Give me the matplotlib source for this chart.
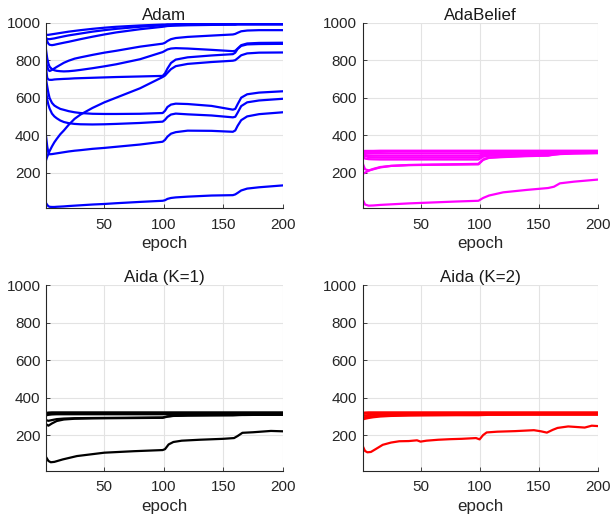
import numpy as np
import matplotlib
matplotlib.use('Agg')
import matplotlib.pyplot as plt

##data (one list per curve)
epochs = [1, 3, 6, 10, 16, 25, 40, 60, 80, 99, 103, 108, 120, 140, 158, 163, 168, 180, 200]
adam_epochs = [1, 2, 3, 4, 6, 8, 10, 13, 16, 20, 25, 30, 40, 50, 60, 80, 99, 101, 103, 106, 110,
	120, 140, 158, 160, 162, 165, 170, 180, 200]

adam = [
	[936, 935, 935, 936, 938, 940, 942, 945, 948, 952, 956, 960, 967, 973, 978, 985, 990, 990, 991, 991, 992, 993, 993, 993, 993, 994, 994, 994, 994, 994],
	[918, 914, 912, 912, 914, 916, 919, 923, 927, 932, 937, 942, 952, 960, 967, 978, 986, 987, 988, 988, 989, 990, 991, 991, 991, 992, 992, 992, 992, 992],
	[915, 900, 888, 882, 880, 882, 885, 889, 893, 898, 905, 912, 925, 937, 948, 965, 978, 980, 982, 983, 984, 986, 988, 989, 989, 990, 990, 990, 990, 990],
	[790, 765, 748, 742, 748, 756, 764, 775, 786, 797, 808, 815, 828, 840, 850, 872, 888, 893, 902, 912, 918, 924, 931, 937, 940, 946, 954, 958, 960, 960],
	[855, 810, 782, 765, 752, 746, 743, 741, 740, 741, 744, 748, 757, 767, 778, 805, 843, 850, 857, 862, 864, 862, 855, 848, 850, 862, 880, 889, 892, 893],
	[760, 705, 697, 695, 695, 697, 698, 699, 700, 701, 703, 704, 706, 708, 710, 713, 716, 730, 755, 785, 803, 815, 825, 832, 840, 860, 876, 884, 886, 887],
	[266, 285, 300, 315, 340, 362, 380, 405, 425, 455, 487, 510, 545, 575, 600, 650, 710, 718, 732, 752, 768, 780, 790, 797, 800, 810, 826, 836, 840, 841],
	[700, 660, 625, 598, 572, 558, 550, 540, 535, 528, 522, 518, 514, 513, 513, 514, 518, 530, 550, 563, 568, 566, 556, 536, 540, 565, 600, 618, 627, 634],
	[640, 590, 562, 542, 515, 500, 490, 478, 470, 464, 460, 458, 457, 458, 460, 465, 472, 482, 497, 510, 515, 511, 505, 495, 498, 520, 555, 575, 585, 594],
	[395, 340, 305, 298, 299, 301, 303, 306, 309, 313, 317, 320, 327, 332, 338, 350, 365, 375, 392, 408, 416, 424, 423, 418, 425, 450, 480, 500, 512, 522],
	[38, 28, 21, 18, 17, 17, 18, 19, 20, 22, 24, 26, 30, 33, 37, 44, 50, 53, 60, 65, 68, 72, 78, 80, 84, 92, 105, 115, 122, 132],
]

adabelief = [
	[315, 316, 316, 316, 317, 317, 317, 317, 317, 317, 317, 317, 317, 317, 317, 317, 317, 317, 317],
	[310, 311, 311, 311, 311, 312, 312, 312, 312, 312, 313, 313, 313, 313, 313, 314, 314, 314, 314],
	[306, 303, 302, 302, 302, 302, 302, 302, 302, 302, 306, 308, 309, 310, 310, 311, 311, 311, 311],
	[300, 294, 291, 290, 290, 290, 290, 290, 290, 290, 298, 302, 304, 306, 307, 309, 310, 310, 310],
	[298, 288, 283, 281, 280, 280, 280, 280, 280, 280, 292, 297, 300, 302, 303, 305, 307, 308, 309],
	[290, 275, 272, 271, 270, 270, 270, 270, 270, 270, 285, 290, 294, 297, 298, 302, 304, 306, 307],
	[250, 218, 212, 218, 228, 236, 241, 243, 245, 247, 270, 281, 285, 290, 292, 297, 300, 303, 305],
	[193, 200, 210, 220, 230, 236, 240, 242, 243, 244, 268, 279, 283, 288, 291, 296, 299, 302, 304],
	[57, 30, 24, 25, 28, 31, 36, 41, 46, 50, 65, 78, 95, 108, 118, 125, 143, 152, 163],
]

aida_k1 = [
	[318, 320, 321, 321, 321, 321, 321, 321, 321, 321, 321, 321, 321, 321, 321, 321, 321, 321, 321],
	[313, 315, 316, 316, 316, 316, 316, 316, 316, 316, 316, 316, 316, 316, 316, 316, 316, 316, 316],
	[305, 308, 310, 311, 311, 311, 311, 311, 311, 311, 312, 312, 312, 312, 312, 312, 312, 312, 312],
	[280, 276, 280, 285, 288, 290, 291, 292, 293, 294, 300, 303, 305, 306, 306, 307, 308, 308, 309],
	[258, 250, 262, 275, 283, 287, 289, 290, 291, 292, 298, 302, 304, 305, 306, 307, 307, 308, 308],
]
k1_low_epochs = [1, 3, 5, 8, 15, 27, 50, 75, 99, 101, 104, 108, 115, 130, 150, 159, 162, 166, 175, 190, 200]
k1_low = [83, 62, 55, 57, 70, 88, 106, 114, 120, 125, 150, 163, 170, 175, 180, 184, 195, 212, 215, 222, 220]

aida_k2 = [
	[318, 320, 321, 321, 321, 321, 321, 321, 321, 321, 321, 321, 321, 321, 321, 321, 321, 321, 321],
	[312, 314, 316, 316, 316, 316, 316, 316, 316, 316, 316, 316, 316, 316, 316, 316, 316, 316, 316],
	[301, 304, 307, 309, 310, 311, 311, 312, 312, 312, 312, 312, 312, 312, 312, 312, 312, 312, 312],
	[292, 295, 298, 301, 304, 306, 307, 308, 308, 308, 309, 310, 310, 310, 310, 310, 310, 310, 310],
	[283, 287, 291, 295, 299, 302, 304, 305, 306, 306, 307, 308, 308, 309, 309, 309, 309, 309, 309],
]
k2_low_epochs = [1, 3, 5, 8, 12, 18, 25, 32, 40, 47, 50, 55, 65, 75, 85, 97, 100, 103, 106, 115, 130,
	146, 152, 157, 162, 166, 175, 182, 189, 195, 200]
k2_low = [142, 115, 108, 110, 125, 148, 160, 167, 168, 172, 165, 170, 175, 178, 180, 184, 177, 200, 214, 218, 221,
	226, 220, 213, 228, 238, 246, 243, 240, 250, 248]

titles = ['Adam', 'AdaBelief', 'Aida (K=1)', 'Aida (K=2)']
colors = ['#0000ff', '#ff00ff', '#000000', '#ff0000']
xticks = [50, 100, 150, 200]
yticks = [200, 400, 600, 800, 1000]

##figure and axes boxes (in figure fractions, matched to the picture)
plt.rcParams['font.family'] = ['Liberation Sans', 'DejaVu Sans']
fig = plt.figure(figsize=(6.12, 5.22), dpi=100)
boxes = [[0.0752, 0.601, 0.387, 0.3556],
	[0.5926, 0.601, 0.384, 0.3556],
	[0.0752, 0.0983, 0.387, 0.3556],
	[0.5926, 0.0983, 0.384, 0.3556]]

panels = [
	[(adam_epochs, s) for s in adam],
	[(epochs, s) for s in adabelief],
	[(epochs, s) for s in aida_k1] + [(k1_low_epochs, k1_low)],
	[(epochs, s) for s in aida_k2] + [(k2_low_epochs, k2_low)],
]

for i in range(4):
	ax = fig.add_axes(boxes[i])
	for x, y in panels[i]:
		ax.plot(x, y, color=colors[i], lw=1.6, solid_joinstyle='round')
	ax.set_xlim(1, 200)
	ax.set_ylim(10, 1000)
	ax.set_xticks(xticks)
	ax.set_yticks(yticks)
	ax.grid(True, color='#e3e3e3', lw=0.8)
	ax.set_axisbelow(True)
	for side in ['top', 'right']:
		ax.spines[side].set_visible(False)
	for side in ['left', 'bottom']:
		ax.spines[side].set_color('#262626')
		ax.spines[side].set_linewidth(0.8)
	ax.tick_params(direction='in', length=3, width=0.6, colors='#262626', labelsize=11)
	ax.tick_params(axis='x', pad=7)
	ax.tick_params(axis='y', pad=4)
	ax.set_title(titles[i], fontsize=12.2, pad=2, color='#1a1a1a')
	ax.set_xlabel('epoch', fontsize=12.2, labelpad=3, color='#262626')

fig.savefig('out.png', dpi=100)
